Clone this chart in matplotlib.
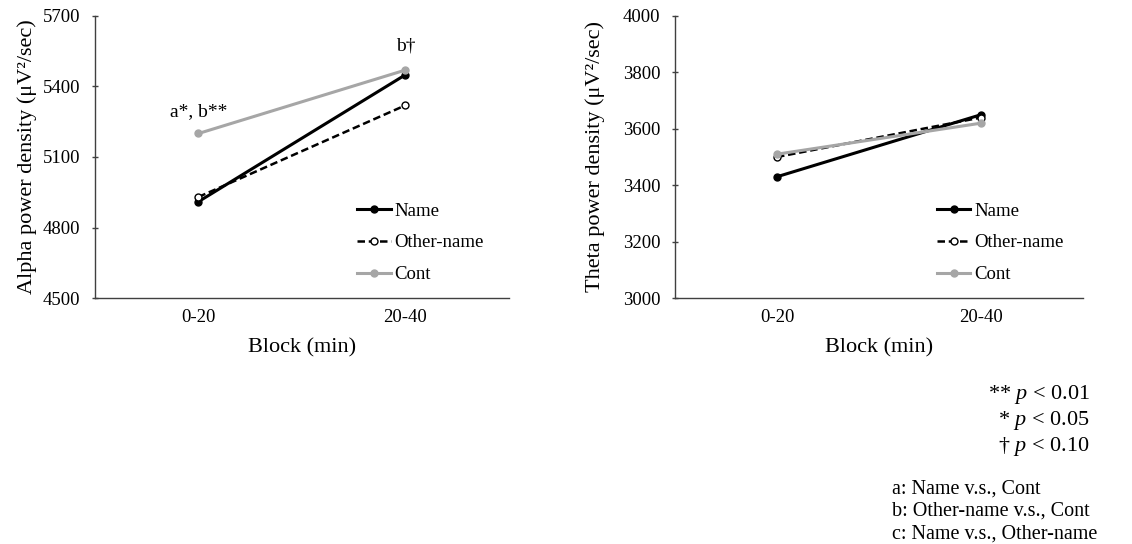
import matplotlib
matplotlib.use("Agg")
import matplotlib.pyplot as plt

plt.rcParams['font.family'] = ['Liberation Serif', 'DejaVu Serif']
plt.rcParams['mathtext.fontset'] = 'custom'
plt.rcParams['mathtext.rm'] = 'Liberation Serif'
plt.rcParams['mathtext.it'] = 'Liberation Serif:italic'

blocks = ['0-20', '20-40']
groups = ['Name', 'Other-name', 'Cont']

alpha_name = [4910, 5450]
alpha_other = [4930, 5320]
alpha_cont = [5200, 5470]

theta_name = [3430, 3650]
theta_other = [3500, 3640]
theta_cont = [3510, 3620]

alpha_ticks = [4500, 4800, 5100, 5400, 5700]
theta_ticks = [3000, 3200, 3400, 3600, 3800, 4000]

styles = {
    'Name': dict(color='black', ls='-', lw=2.2, marker='o', ms=5, mfc='black', mec='black'),
    'Other-name': dict(color='black', ls=(0, (3, 1.5)), lw=1.8, marker='o', ms=5, mfc='white', mec='black', mew=1.0),
    'Cont': dict(color='#a6a6a6', ls='-', lw=2.2, marker='o', ms=5, mfc='#a6a6a6', mec='#a6a6a6'),
}


def draw_panel(ax, series, ticks, ylabel, label_x, leg_x):
    x = [0, 1]
    for g, vals in zip(groups, series):
        ax.plot(x, vals, label=g, **styles[g])
    ax.set_xlim(-0.5, 1.5)
    ax.set_ylim(ticks[0], ticks[-1])
    ax.set_yticks(ticks)
    ax.set_xticks(x)
    ax.set_xticklabels(blocks)
    ax.tick_params(axis='x', length=0, labelsize=13.5, pad=8)
    ax.tick_params(axis='y', length=5, direction='inout', width=1.0,
                   color='#404040', labelsize=13.5, pad=8)
    for s in ['top', 'right']:
        ax.spines[s].set_visible(False)
    for s in ['left', 'bottom']:
        ax.spines[s].set_color('#404040')
        ax.spines[s].set_linewidth(1.0)
    ax.set_xlabel('Block (min)', fontsize=16)
    ax.xaxis.set_label_coords(0.5, -0.142)
    ax.set_ylabel(ylabel, fontsize=16)
    ax.yaxis.set_label_coords(label_x, 0.5)
    ax.legend(loc='upper left', bbox_to_anchor=(leg_x, 0.365), frameon=False,
              fontsize=13.5, handlelength=1.8, handletextpad=0.2,
              labelspacing=0.78, borderaxespad=0)


fig = plt.figure(figsize=(11.32, 5.44), dpi=100)
ax1 = fig.add_axes([0.0839, 0.4522, 0.3657, 0.5184])
ax2 = fig.add_axes([0.5963, 0.4522, 0.3604, 0.5184])

draw_panel(ax1, [alpha_name, alpha_other, alpha_cont], alpha_ticks,
           'Alpha power density (μV²/sec)', -0.14, 0.615)
draw_panel(ax2, [theta_name, theta_other, theta_cont], theta_ticks,
           'Theta power density (μV²/sec)', -0.172, 0.623)

ax1.text(0, 5255, 'a*, b**', ha='center', va='bottom', fontsize=14)
ax1.text(1, 5536, 'b†', ha='center', va='bottom', fontsize=14)

fig.text(1090 / 1132, 1 - 394 / 544, '** $p$ < 0.01', ha='right', va='center', fontsize=16)
fig.text(1090 / 1132, 1 - 420 / 544, '* $p$ < 0.05', ha='right', va='center', fontsize=16)
fig.text(1090 / 1132, 1 - 446 / 544, '† $p$ < 0.10', ha='right', va='center', fontsize=16)

fig.text(892 / 1132, 1 - 489 / 544, 'a: Name v.s., Cont', ha='left', va='center', fontsize=14.5)
fig.text(892 / 1132, 1 - 511 / 544, 'b: Other-name v.s., Cont', ha='left', va='center', fontsize=14.5)
fig.text(892 / 1132, 1 - 534 / 544, 'c: Name v.s., Other-name', ha='left', va='center', fontsize=14.5)

fig.savefig('out.png', dpi=100)
